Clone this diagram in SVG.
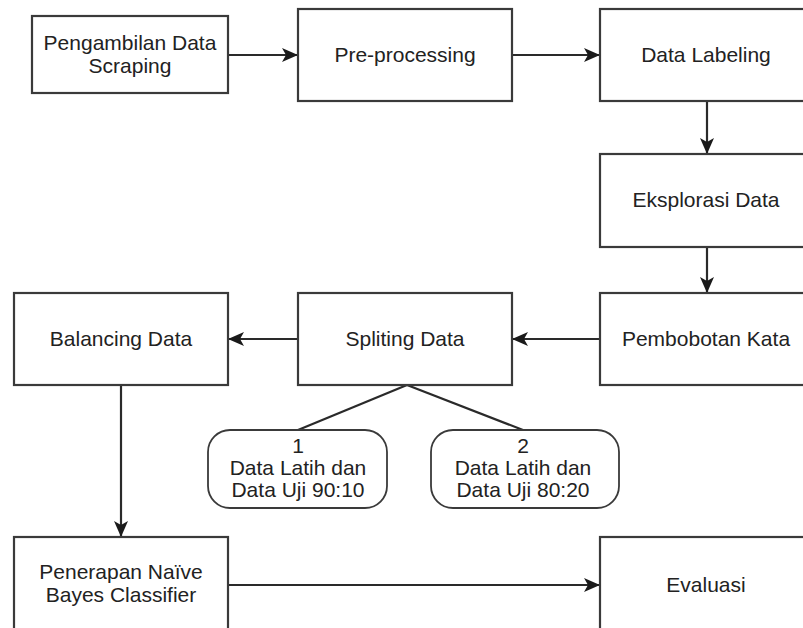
<svg xmlns="http://www.w3.org/2000/svg" width="803" height="628" viewBox="0 0 803 628">
<style>
.box{fill:#fff;stroke:#3a3a3a;stroke-width:2.2}
.rbox{fill:#fff;stroke:#3a3a3a;stroke-width:1.8}
.t{font-family:"Liberation Sans",Arial,sans-serif;font-size:21px;fill:#222;text-anchor:middle}
.e{fill:none;stroke:#2a2a2a;stroke-width:2.2}
</style>
<defs>
<marker id="arr" markerUnits="userSpaceOnUse" markerWidth="18" markerHeight="16" refX="16" refY="7" orient="auto">
<path d="M0,0 L16,7 L0,14 L4,7 Z" fill="#1a1a1a"/>
</marker>
</defs>
<rect width="803" height="628" fill="#fff"/>
<g id="connectors">
<line class="e" x1="228" y1="55" x2="298" y2="55" marker-end="url(#arr)"/>
<line class="e" x1="512" y1="55" x2="600" y2="55" marker-end="url(#arr)"/>
<line class="e" x1="707" y1="101" x2="707" y2="154" marker-end="url(#arr)"/>
<line class="e" x1="707" y1="247" x2="707" y2="293" marker-end="url(#arr)"/>
<line class="e" x1="600" y1="339" x2="512" y2="339" marker-end="url(#arr)"/>
<line class="e" x1="298" y1="339" x2="228" y2="339" marker-end="url(#arr)"/>
<line class="e" x1="121" y1="385" x2="121" y2="537" marker-end="url(#arr)"/>
<line class="e" x1="228" y1="585" x2="600" y2="585" marker-end="url(#arr)"/>
<line class="e" x1="407" y1="385" x2="298" y2="430"/>
<line class="e" x1="407" y1="385" x2="523" y2="430"/>
</g>
<g id="n1"><rect class="box" x="32" y="16" width="196" height="77"/>
<text class="t" x="130" y="50">Pengambilan Data</text><text class="t" x="130" y="73">Scraping</text></g>
<g id="n2"><rect class="box" x="298" y="9" width="214" height="92"/>
<text class="t" x="405" y="62">Pre-processing</text></g>
<g id="n3"><rect class="box" x="600" y="9" width="212" height="92"/>
<text class="t" x="706" y="62">Data Labeling</text></g>
<g id="n4"><rect class="box" x="600" y="154" width="212" height="93"/>
<text class="t" x="706" y="207">Eksplorasi Data</text></g>
<g id="n5"><rect class="box" x="600" y="293" width="212" height="92"/>
<text class="t" x="706" y="346">Pembobotan Kata</text></g>
<g id="n6"><rect class="box" x="298" y="293" width="214" height="92"/>
<text class="t" x="405" y="346">Spliting Data</text></g>
<g id="n7"><rect class="box" x="14" y="293" width="214" height="92"/>
<text class="t" x="121" y="346">Balancing Data</text></g>
<g id="n8"><rect class="rbox" x="208" y="430" width="179" height="78" rx="22" ry="22"/>
<text class="t" x="298" y="453">1</text><text class="t" x="298" y="475">Data Latih dan</text><text class="t" x="298" y="497">Data Uji 90:10</text></g>
<g id="n9"><rect class="rbox" x="431" y="430" width="188" height="78" rx="22" ry="22"/>
<text class="t" x="523" y="453">2</text><text class="t" x="523" y="475">Data Latih dan</text><text class="t" x="523" y="497">Data Uji 80:20</text></g>
<g id="n10"><rect class="box" x="14" y="537" width="214" height="93"/>
<text class="t" x="121" y="579">Penerapan Naïve</text><text class="t" x="121" y="602">Bayes Classifier</text></g>
<g id="n11"><rect class="box" x="600" y="537" width="212" height="93"/>
<text class="t" x="706" y="592">Evaluasi</text></g>
</svg>
